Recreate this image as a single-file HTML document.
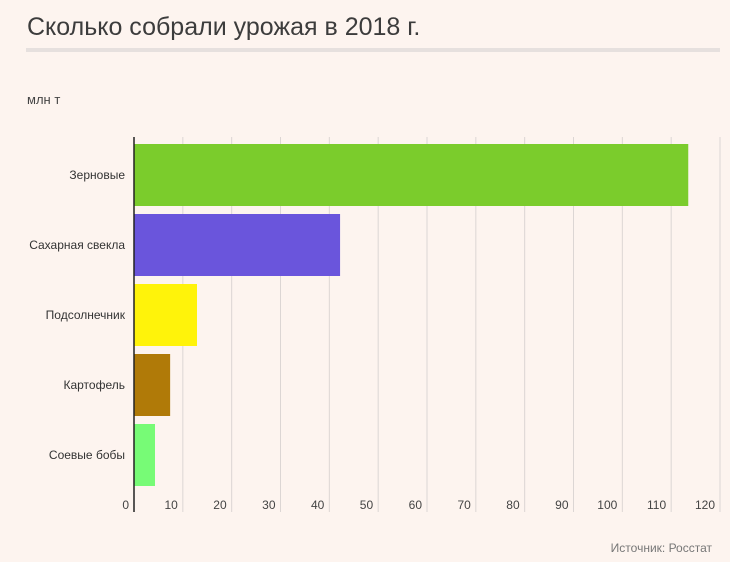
<!DOCTYPE html>
<html><head><meta charset="utf-8"><style>
body{margin:0;background:#fdf4ef;font-family:"Liberation Sans",sans-serif;}
#wrap{position:relative;width:730px;height:562px;overflow:hidden;background:#fdf4ef;}
</style></head><body>
<div id="wrap">
<svg id="svg" width="730" height="562">
<text x="27" y="35" font-size="25" fill="#3c3c3c">Сколько собрали урожая в 2018 г.</text>
<rect x="26" y="48" width="694" height="4" fill="#e6e0de"/>
<text x="27" y="104" font-size="13" fill="#444">млн т</text>
<text x="712" y="552" font-size="12" fill="#777" text-anchor="end">Источник: Росстат</text>
</svg>
</div>
<script>
const categories=["Зерновые","Сахарная свекла","Подсолнечник","Картофель","Соевые бобы"];
const values=[113.5,42.2,12.9,7.4,4.3];
const colors=["#7bcc2c","#6a55dc","#fff30a","#b07a08","#77fb76"];
const ticks=[0,10,20,30,40,50,60,70,80,90,100,110,120];
const svgEl=document.getElementById('svg');
const NS="http://www.w3.org/2000/svg";
const x0=134,x1=720,topY=137,bottomY=512,rowH=70,barH=62,firstY=144;
const xs=v=>x0+(v/120)*(x1-x0);
function mk(t,a){const e=document.createElementNS(NS,t);for(const k in a)e.setAttribute(k,a[k]);svgEl.appendChild(e);return e;}
ticks.forEach((t,i)=>{
  if(t>0){const g=mk('line',{x1:xs(t),x2:xs(t),y1:topY,y2:bottomY,stroke:'#dcd6d4','stroke-width':1});
  
  }
  const l=mk('text',{x:xs(t)-5,y:509,'font-size':12,fill:'#444','text-anchor':'end'});
  l.textContent=t;
  
  
});
categories.forEach((c,i)=>{
  const y=firstY+i*rowH;
  const r=mk('rect',{x:x0,y:y,width:xs(values[i])-x0,height:barH,fill:colors[i]});
  
  
  const t=mk('text',{x:125,y:y+barH/2+4,'font-size':12,fill:'#333','text-anchor':'end'});
  t.textContent=c;
  
  
});
const ax=mk('line',{x1:x0,x2:x0,y1:topY,y2:bottomY,stroke:'#222','stroke-width':1.5});


</script>
</body></html>
